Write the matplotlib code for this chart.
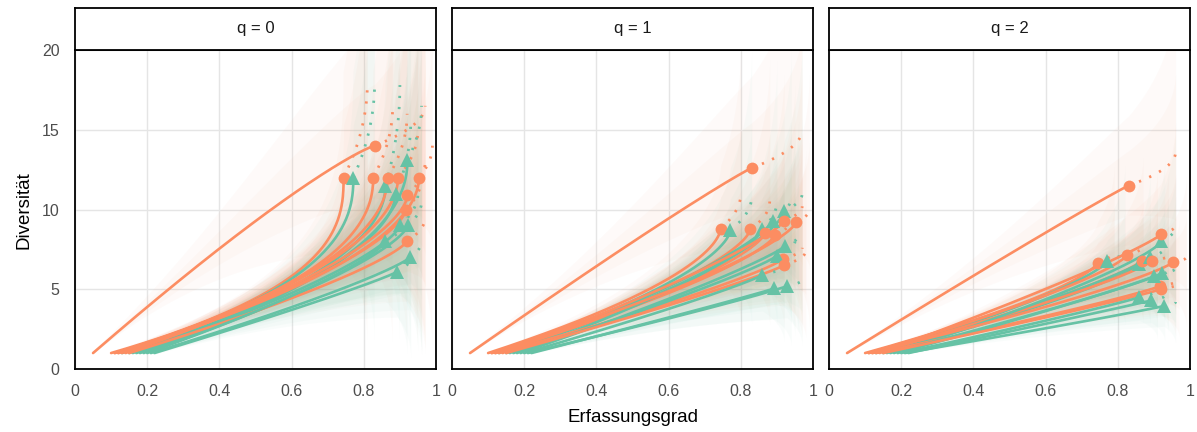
import numpy as np
import matplotlib
matplotlib.use("Agg")
import matplotlib.pyplot as plt

plt.rcParams['font.family'] = ['Liberation Sans', 'DejaVu Sans']

# ---- data ----
panel_titles = ["q = 0", "q = 1", "q = 2"]
x_ticks = [0, 0.2, 0.4, 0.6, 0.8, 1]
x_tick_labels = ["0", "0.2", "0.4", "0.6", "0.8", "1"]
y_ticks = [0, 5, 10, 15, 20]

group = ['A', 'A', 'B', 'A', 'B', 'A', 'B', 'A', 'B', 'A', 'A', 'A', 'B', 'B', 'A', 'B', 'B', 'B']
c_start = [0.05, 0.10, 0.13, 0.11, 0.15, 0.12, 0.16, 0.12, 0.18, 0.14, 0.11, 0.13, 0.17, 0.19, 0.15, 0.21, 0.22, 0.20]
c_obs = [0.83, 0.744, 0.771, 0.826, 0.86, 0.866, 0.888, 0.895, 0.921, 0.921, 0.953, 0.917, 0.90, 0.922, 0.919, 0.928, 0.893, 0.86]
shape_k = [0.85, 2.6, 2.4, 2.2, 2.0, 2.0, 1.8, 1.9, 2.1, 1.6, 1.9, 1.5, 1.4, 1.4, 1.3, 1.2, 1.1, 1.3]

D_obs = [
    [14.0, 12.0, 12.0, 12.0, 11.5, 12.0, 11.0, 12.0, 13.1, 10.9, 12.0, 10.0, 9.0, 9.0, 8.0, 7.0, 6.1, 8.0],
    [12.6, 8.8, 8.7, 8.75, 8.8, 8.5, 9.3, 8.4, 9.9, 9.3, 9.2, 6.9, 7.1, 7.7, 6.5, 5.2, 5.05, 5.9],
    [11.5, 6.67, 6.8, 7.15, 6.6, 6.8, 7.0, 6.8, 8.0, 8.46, 6.7, 5.2, 5.8, 6.0, 5.0, 3.95, 4.3, 4.5],
]
c_ext = [
    [0.97, 0.81, 0.83, 0.88, 0.90, 0.92, 0.93, 0.95, 0.96, 0.97, 0.99, 0.96, 0.95, 0.96, 0.97, 0.96, 0.93, 0.92],
    [0.97, 0.80, 0.83, 0.88, 0.90, 0.92, 0.94, 0.95, 0.97, 0.97, 0.99, 0.97, 0.95, 0.96, 0.98, 0.97, 0.94, 0.92],
    [0.96, 0.79, 0.82, 0.87, 0.89, 0.91, 0.93, 0.94, 0.96, 0.96, 0.99, 0.96, 0.94, 0.96, 0.97, 0.96, 0.93, 0.91],
]
D_ext = [
    [16.5, 18.0, 18.0, 16.5, 17.8, 16.0, 15.5, 15.0, 16.5, 13.0, 14.0, 12.0, 11.0, 10.5, 9.5, 8.0, 7.0, 9.5],
    [15.0, 11.0, 10.8, 10.5, 10.5, 10.0, 10.8, 9.6, 11.0, 10.2, 10.0, 7.6, 8.0, 8.4, 7.4, 5.6, 5.5, 6.5],
    [13.6, 7.4, 7.4, 7.7, 7.2, 7.2, 7.6, 7.1, 8.9, 9.0, 7.0, 5.5, 6.2, 6.3, 5.4, 4.2, 4.6, 5.0],
]
# how strongly the curve bends per q (1 = full shape_k, 0 = straight)
bend_scale = [1.0, 0.4, 0.25]
# relative half-width of the confidence band at the observed point, per q
band_width = [0.55, 0.45, 0.38]

colors = {'A': '#FC8D62', 'B': '#66C2A5'}
markers = {'A': 'o', 'B': '^'}
msizes = {'A': 8.5, 'B': 9.5}

# ---- figure ----
W, H = 1197, 432
fig = plt.figure(figsize=(W / 100, H / 100), dpi=100)
panel_left = [75, 452, 829]
panel_w = 361
ax_bottom, ax_top, strip_top = 369, 50, 8

t = np.linspace(0, 1, 150)
s = np.linspace(0, 1, 40)

for pi in range(3):
    l = panel_left[pi]
    ax = fig.add_axes([l / W, (H - ax_bottom) / H, panel_w / W, (ax_bottom - ax_top) / H])
    ax.set_xlim(0, 1)
    ax.set_ylim(0, 20)
    ax.set_xticks(x_ticks)
    ax.set_yticks(y_ticks)
    ax.set_xticklabels(x_tick_labels)
    if pi == 0:
        ax.set_yticklabels([str(v) for v in y_ticks])
    else:
        ax.set_yticklabels([])
    ax.tick_params(length=0, labelsize=11.5, labelcolor='#4D4D4D', pad=11)
    ax.grid(True, color='#E5E5E5', lw=1.0)
    ax.set_axisbelow(True)
    for sp in ax.spines.values():
        sp.set_color('black')
        sp.set_linewidth(1.3)

    n = len(group)
    curves = []
    for i in range(n):
        k = 1 + (shape_k[i] - 1) * bend_scale[pi]
        C = c_start[i] + (c_obs[i] - c_start[i]) * (1 - (1 - t) ** k)
        D = 1 + (D_obs[pi][i] - 1) * t
        Ce = c_obs[i] + (c_ext[pi][i] - c_obs[i]) * (1 - (1 - s) ** 2)
        De = D_obs[pi][i] + (D_ext[pi][i] - D_obs[pi][i]) * s
        curves.append((C, D, Ce, De))

    # confidence ribbons (drawn vertically around the curve, and shifted in coverage)
    for i in range(n):
        C, D, Ce, De = curves[i]
        Call = np.concatenate([C, Ce[1:]])
        Dall = np.concatenate([D, De[1:]])
        frac = np.concatenate([t, 1 + s[1:]])
        w = band_width[pi] * (0.15 + 0.85 * frac ** 1.1)
        lo = np.maximum(Dall * (1 - w * 0.85), 0.5)
        hi = Dall * (1 + w)
        for a_scale in (1.0, 0.5):
            ax.fill_between(Call, Dall - (Dall - lo) * a_scale, Dall + (hi - Dall) * a_scale,
                            color=colors[group[i]], alpha=0.035, lw=0)

    # rarefaction lines + extrapolation dots
    for i in range(n):
        C, D, Ce, De = curves[i]
        col = colors[group[i]]
        ax.plot(Ce, De, color=col, lw=2.0, linestyle=(0, (0.8, 3.2)),
                dash_capstyle='butt')
        ax.plot(C, D, color=col, lw=1.9, solid_capstyle='round')
    for i in range(n):
        col = colors[group[i]]
        ax.plot([c_obs[i]], [D_obs[pi][i]], marker=markers[group[i]], color=col,
                markersize=msizes[group[i]], markeredgewidth=0, linestyle='none')

    # strip
    sax = fig.add_axes([l / W, (H - ax_top) / H, panel_w / W, (ax_top - strip_top) / H])
    sax.set_xticks([])
    sax.set_yticks([])
    sax.set_facecolor('white')
    for sp in sax.spines.values():
        sp.set_color('black')
        sp.set_linewidth(1.3)
    sax.text(0.5, 0.5, panel_titles[pi], ha='center', va='center', fontsize=12, color='#1A1A1A')

fig.text(633 / W, 1 - 418 / H, "Erfassungsgrad", ha='center', va='center', fontsize=13.5)
fig.text(24 / W, 1 - 210 / H, "Diversität", ha='center', va='center', rotation=90, fontsize=13.5)

fig.savefig("out.png", dpi=100, facecolor='white')
